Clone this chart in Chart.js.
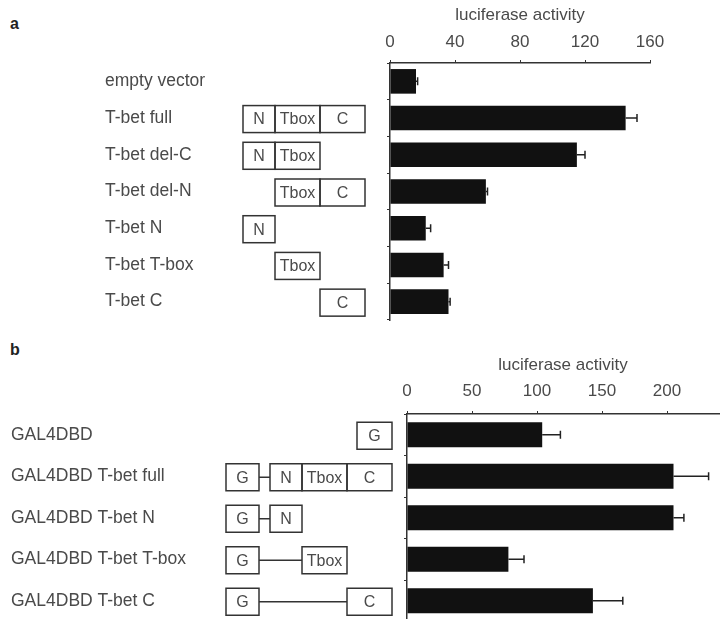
<!DOCTYPE html>
<html lang="en">
<head>
<meta charset="utf-8">
<script src="https://cdn.jsdelivr.net/npm/chart.js@4.4.1/dist/chart.umd.min.js"></script>
<style>
body{margin:0;background:#fff;width:723px;height:619px;overflow:hidden;position:relative;font-family:"Liberation Sans",Arial,sans-serif}
canvas{position:absolute;left:0}
#ca{top:0}
#cb{top:335px}
.pl{position:absolute;left:10px;font-weight:bold;font-size:16px;color:#222}
</style>
<title>luciferase activity</title>
</head>
<body>
<div class="pl" style="top:15px">a</div>
<div class="pl" style="top:341px">b</div>
<canvas id="ca" width="723" height="335"></canvas>
<canvas id="cb" width="723" height="300"></canvas>
<script>
// panel a
const labelsA = ["empty vector", "T-bet full", "T-bet del-C", "T-bet del-N", "T-bet N", "T-bet T-box", "T-bet C"];
const valuesA = [16, 145, 115, 59, 22, 33, 36];
const errorsA = [1, 7, 5, 1, 3, 3, 1];
const ticksA = [0, 40, 80, 120, 160];
const domainsA = [[], ["N", "Tbox", "C"], ["N", "Tbox"], ["Tbox", "C"], ["N"], ["Tbox"], ["C"]];

// panel b
const labelsB = ["GAL4DBD", "GAL4DBD T-bet full", "GAL4DBD T-bet N", "GAL4DBD T-bet T-box", "GAL4DBD T-bet C"];
const valuesB = [104, 205, 205, 78, 143];
const errorsB = [14, 27, 8, 12, 23];
const ticksB = [0, 50, 100, 150, 200];
const domainsB = [["G"], ["G", "N", "Tbox", "C"], ["G", "N"], ["G", "Tbox"], ["G", "C"]];

const ink = "#333";
const textCol = "#4a4a4a";

// error bars: line from bar end with a small cap
const errBars = {
    id: "errBars",
    afterDatasetsDraw(chart, args, opts) {
        const ctx = chart.ctx, x = chart.scales.x, y = chart.scales.y;
        const vals = chart.data.datasets[0].data;
        ctx.save();
        ctx.strokeStyle = "#222";
        ctx.lineWidth = 1.5;
        vals.forEach((v, i) => {
            const yy = y.getPixelForValue(i);
            const x0 = x.getPixelForValue(v);
            const x1 = x.getPixelForValue(v + opts.errors[i]);
            ctx.beginPath();
            ctx.moveTo(x0, yy); ctx.lineTo(x1, yy);
            ctx.moveTo(x1, yy - 4); ctx.lineTo(x1, yy + 4);
            ctx.stroke();
        });
        ctx.restore();
    }
};

// domain diagrams between the labels and the axis
const domains = {
    id: "domains",
    afterDraw(chart, args, opts) {
        const ctx = chart.ctx, y = chart.scales.y;
        ctx.save();
        ctx.strokeStyle = ink;
        ctx.lineWidth = 1.5;
        ctx.fillStyle = textCol;
        ctx.font = "16px 'Liberation Sans', Arial, sans-serif";
        ctx.textAlign = "center";
        ctx.textBaseline = "middle";
        opts.rows.forEach((row, i) => {
            const cy = y.getPixelForValue(i) + 1;
            const h = 27;
            let boxes = row.map(d => [d, opts.slots[d][0], opts.slots[d][1]]);
            if (row.length === 1 && row[0] === "G" && opts.loneG) boxes = [["G", opts.loneG[0], opts.loneG[1]]];
            boxes.forEach(b => {
                ctx.strokeRect(b[1], cy - h / 2, b[2] - b[1], h);
                ctx.fillText(b[0], (b[1] + b[2]) / 2, cy + 1);
            });
            if (row[0] === "G" && boxes.length > 1) {
                ctx.beginPath();
                ctx.moveTo(boxes[0][2], cy);
                ctx.lineTo(boxes[1][1], cy);
                ctx.stroke();
            }
        });
        ctx.restore();
    }
};

function makeChart(id, labels, values, errors, ticks, rows, cfg) {
    return new Chart(document.getElementById(id), {
        type: "bar",
        data: {
            labels: labels,
            datasets: [{ data: values, backgroundColor: "#111", barPercentage: cfg.barPct, categoryPercentage: 1 }]
        },
        options: {
            indexAxis: "y",
            responsive: false,
            animation: false,
            layout: { padding: cfg.padding },
            plugins: {
                legend: { display: false },
                tooltip: { enabled: false },
                errBars: { errors: errors },
                domains: { rows: rows, slots: cfg.slots, loneG: cfg.loneG }
            },
            scales: {
                x: {
                    position: "top",
                    min: 0,
                    max: cfg.max,
                    afterBuildTicks: s => { s.ticks = ticks.map(v => ({ value: v })); },
                    afterFit: s => { s.height = cfg.xHeight; },
                    grid: { drawOnChartArea: false, tickLength: 3, color: ink },
                    border: { color: ink, width: 1.5 },
                    ticks: { font: { size: 17 }, color: textCol, padding: cfg.tickPad },
                    title: { display: true, text: "luciferase activity", font: { size: 17 }, color: textCol, padding: { top: 0, bottom: 0 } }
                },
                y: {
                    afterFit: s => { s.width = cfg.yWidth; },
                    grid: { drawOnChartArea: false, tickLength: 3, color: ink, offset: true },
                    border: { color: ink, width: 1.5 },
                    ticks: { crossAlign: "far", font: { size: 17.5 }, color: textCol }
                }
            }
        },
        plugins: [errBars, domains]
    });
}

makeChart("ca", labelsA, valuesA, errorsA, ticksA, domainsA, {
    max: 160, barPct: 0.67, xHeight: 58, yWidth: 285, tickPad: 7,
    padding: { left: 105, right: 73, top: 5, bottom: 15 },
    slots: { N: [243, 275], Tbox: [275, 320], C: [320, 365] }
});

makeChart("cb", labelsB, valuesB, errorsB, ticksB, domainsB, {
    max: 240, barPct: 0.6, xHeight: 59, yWidth: 396, tickPad: 9,
    padding: { left: 11, right: 4, top: 20, bottom: 11 },
    slots: { G: [226, 259], N: [270, 302], Tbox: [302, 347], C: [347, 392] },
    loneG: [357, 392]
});
</script>
</body>
</html>
